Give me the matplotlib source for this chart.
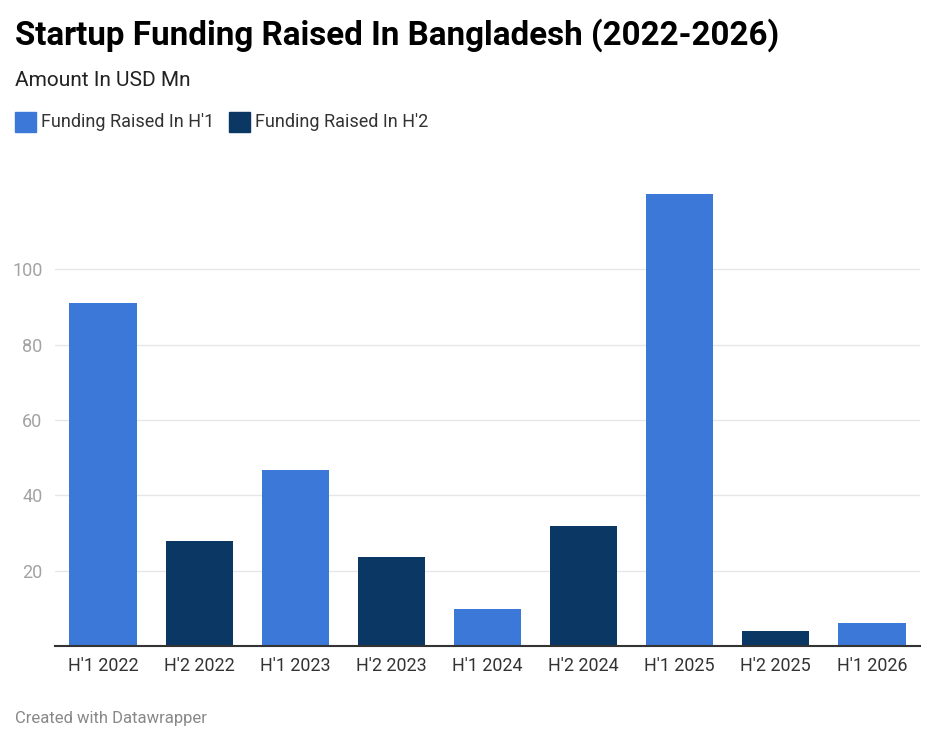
import matplotlib.pyplot as plt
from matplotlib.patches import Rectangle

plt.rcParams['font.family'] = ['Roboto', 'DejaVu Sans']

# data (USD Mn)
periods = ["H'1 2022", "H'2 2022", "H'1 2023", "H'2 2023", "H'1 2024",
           "H'2 2024", "H'1 2025", "H'2 2025", "H'1 2026"]
funding = [91, 28, 46.7, 23.7, 9.8, 31.9, 120, 3.9, 6]
half = ["H'1", "H'2", "H'1", "H'2", "H'1", "H'2", "H'1", "H'2", "H'1"]
y_ticks = [20, 40, 60, 80, 100]

colors = {"H'1": "#3c78d8", "H'2": "#0a3764"}
legend_labels = {"H'1": "Funding Raised In H'1", "H'2": "Funding Raised In H'2"}

W, H = 936, 745
fig = plt.figure(figsize=(W / 100, H / 100), dpi=100)
ax = fig.add_axes([55 / W, 1 - 646 / H, (920 - 55) / W, (646 - 194) / H])

x = list(range(len(periods)))
ax.bar(x, funding, width=0.7, color=[colors[h] for h in half], zorder=3)

ax.set_xlim(-0.5, len(periods) - 0.5)
ax.set_ylim(0, 120)
ax.set_yticks(y_ticks)
ax.set_yticklabels([str(v) for v in y_ticks])
ax.set_xticks(x)
ax.set_xticklabels(periods)
ax.tick_params(axis='y', length=0, pad=9, labelsize=13, labelcolor='#a3a3a3')
ax.tick_params(axis='x', length=0, pad=8, labelsize=12.9, labelcolor='#333333')
ax.grid(axis='y', color='#e6e6e6', linewidth=1, zorder=0)
for s in ['top', 'right', 'left']:
    ax.spines[s].set_visible(False)
ax.spines['bottom'].set_color('#333333')
ax.spines['bottom'].set_linewidth(1.5)
ax.spines['bottom'].set_zorder(4)

# title, subtitle, legend, footer
fig.text(15 / W, 1 - 35 / H, "Startup Funding Raised In Bangladesh (2022-2026)",
         fontsize=23.9, fontweight='bold', color='#000000', va='center', ha='left')
fig.text(15 / W, 1 - 80 / H, "Amount In USD Mn", fontsize=15,
         color='#222222', va='center', ha='left')

leg_x = {"H'1": 15, "H'2": 229}
for h in ["H'1", "H'2"]:
    fig.patches.append(Rectangle((leg_x[h] / W, 1 - 132 / H), 21 / W, 20 / H,
                                 transform=fig.transFigure, color=colors[h]))
    fig.text((leg_x[h] + 26) / W, 1 - 122 / H, legend_labels[h], fontsize=13,
             color='#333333', va='center', ha='left')

fig.text(15 / W, 1 - 719 / H, "Created with Datawrapper", fontsize=12,
         color='#888888', va='center', ha='left')

fig.savefig('out.png', dpi=100)
